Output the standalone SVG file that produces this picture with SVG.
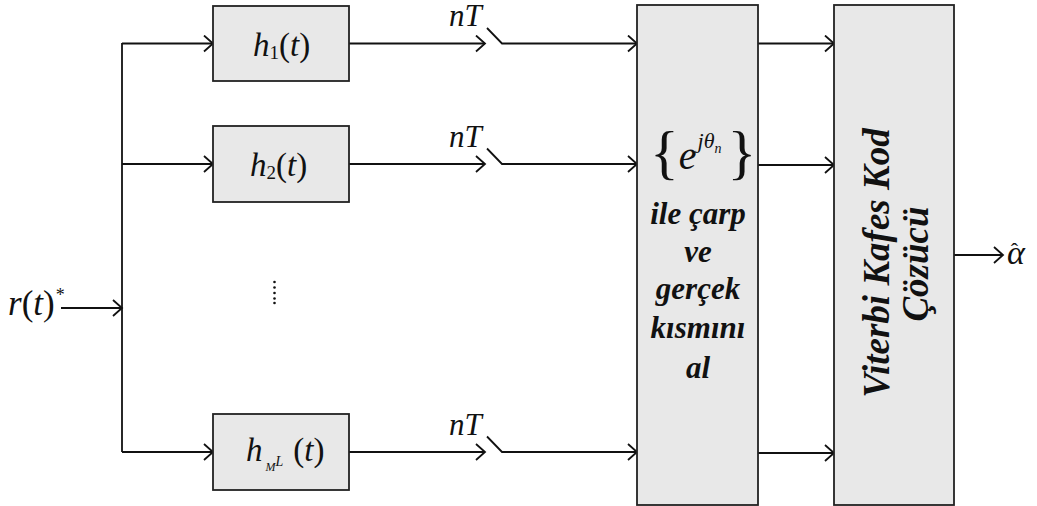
<svg xmlns="http://www.w3.org/2000/svg" width="1037" height="506" viewBox="0 0 1037 506">
<style>
.box{fill:#e8e8e8;stroke:#222;stroke-width:1.8}
.ln{fill:none;stroke:#111;stroke-width:1.8}
.m{font-style:italic;fill:#111}
.u{font-style:normal}
.b{font-style:italic;font-weight:bold;fill:#111;text-anchor:middle}
</style>
<defs>
<marker id="ah" markerWidth="12" markerHeight="20" refX="10" refY="9" orient="auto" markerUnits="userSpaceOnUse">
<path d="M1,1 L10,9 L1,17" fill="none" stroke="#111" stroke-width="1.8"/>
</marker>
</defs>
<rect width="1037" height="506" fill="#fff"/>
<g id="connectors">
<path class="ln" d="M61,308 H122" marker-end="url(#ah)"/>
<path class="ln" d="M122,43 V452"/>
<path class="ln" d="M122,43.5 H213" marker-end="url(#ah)"/>
<path class="ln" d="M122,164 H213" marker-end="url(#ah)"/>
<path class="ln" d="M122,452 H213" marker-end="url(#ah)"/>
<path class="ln" d="M349,43.5 H485" marker-end="url(#ah)"/>
<path class="ln" d="M349,164 H485" marker-end="url(#ah)"/>
<path class="ln" d="M349,452 H485" marker-end="url(#ah)"/>
<path class="ln" d="M487,28 L502,43.5 H637" marker-end="url(#ah)"/>
<path class="ln" d="M487,148.5 L502,164 H637" marker-end="url(#ah)"/>
<path class="ln" d="M487,436.5 L502,452 H637" marker-end="url(#ah)"/>
<path class="ln" d="M758,43.5 H834" marker-end="url(#ah)"/>
<path class="ln" d="M758,165 H834" marker-end="url(#ah)"/>
<path class="ln" d="M758,453 H834" marker-end="url(#ah)"/>
<path class="ln" d="M954,255 H1003" marker-end="url(#ah)"/>
</g>
<g font-family="Liberation Serif, Times New Roman, serif">
<g id="input">
<text class="m" x="8" y="315" font-size="35">r<tspan class="u">(</tspan>t<tspan class="u">)</tspan><tspan class="u" font-size="18" dx="1" dy="-14">*</tspan></text>
</g>
<g id="h1">
<rect class="box" x="213" y="6" width="136" height="75"/>
<text class="m" x="253" y="56" font-size="33">h<tspan class="u" font-size="19" dy="3">1</tspan><tspan class="u" dy="-3">(</tspan>t<tspan class="u">)</tspan></text>
</g>
<g id="h2">
<rect class="box" x="213" y="126" width="136" height="76"/>
<text class="m" x="250" y="176" font-size="33">h<tspan class="u" font-size="19" dy="3">2</tspan><tspan class="u" dy="-3">(</tspan>t<tspan class="u">)</tspan></text>
</g>
<g id="dots">
<circle cx="274.5" cy="282" r="1.3" fill="#111"/>
<circle cx="274.5" cy="287.5" r="1.3" fill="#111"/>
<circle cx="274.5" cy="293" r="1.3" fill="#111"/>
<circle cx="274.5" cy="298.5" r="1.3" fill="#111"/>
<circle cx="274.5" cy="303" r="1.3" fill="#111"/>
</g>
<g id="hML">
<rect class="box" x="213" y="414" width="136" height="76"/>
<text class="m" x="246" y="461" font-size="33">h<tspan font-size="12" dx="3" dy="10">M</tspan><tspan font-size="14" dy="-5">L</tspan><tspan class="u" font-size="33" dx="10" dy="-5">(</tspan>t<tspan class="u">)</tspan></text>
</g>
<g id="samplers">
<text class="m" x="449" y="26" font-size="31">nT</text>
<text class="m" x="449" y="147" font-size="31">nT</text>
<text class="m" x="449" y="435" font-size="31">nT</text>
</g>
<g id="multiply">
<rect class="box" x="637" y="5" width="121" height="500"/>
<text class="m" x="650" y="172" font-size="60"><tspan class="u">{</tspan><tspan font-size="40" dy="-3">e</tspan><tspan font-size="22" dx="1" dy="-21">jθ</tspan><tspan font-size="14" dy="5">n</tspan><tspan class="u" font-size="60" dx="6" dy="19">}</tspan></text>
<text class="b" x="698" y="224" font-size="31">ile çarp</text>
<text class="b" x="698" y="262" font-size="31">ve</text>
<text class="b" x="698" y="299" font-size="31">gerçek</text>
<text class="b" x="698" y="338" font-size="31">kısmını</text>
<text class="b" x="698" y="378" font-size="31">al</text>
</g>
<g id="viterbi">
<rect class="box" x="834" y="5" width="120" height="500"/>
<text class="b" x="889" y="263" font-size="37" transform="rotate(-90 889 263)">Viterbi Kafes Kod</text>
<text class="b" x="928" y="264" font-size="37" transform="rotate(-90 928 264)">Çözücü</text>
</g>
<g id="output">
<text class="m" x="1007" y="264" font-size="34">α<tspan class="u" font-size="22" dx="-14" dy="-6">ˆ</tspan></text>
</g>
</g>
</svg>
